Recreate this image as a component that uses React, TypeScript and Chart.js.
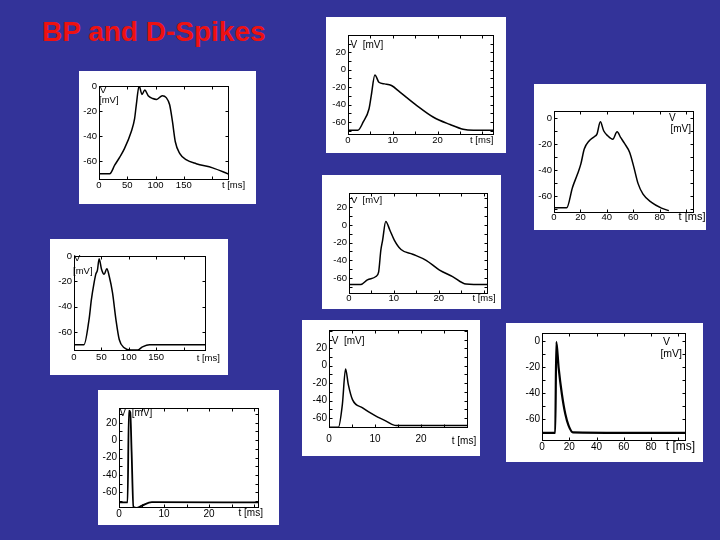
import React, { useEffect, useRef } from 'react';
import { Chart, registerables } from 'chart.js';

Chart.register(...registerables);

const FONT = "'Liberation Sans', Arial, Helvetica, sans-serif";

// ---- Panel 1 (top-left, long BP) ----
const p1Time = [0, 19, 28, 37, 45, 57, 63, 66, 71, 76, 81, 87, 95, 102, 112, 119, 125, 130, 135, 143, 154, 172, 201, 230];
const p1Volt = [-70, -70, -63, -56.5, -50, -36.5, -26, -15, 0, -6.7, -3.2, -7.7, -10, -10.7, -7.7, -9.3, -15, -28.5, -44.5, -54, -58.7, -62, -65.3, -70.4];
const p1XTicks = [0, 50, 100, 150];
const p1YTicks = [-60, -40, -20, 0];

// ---- Panel 2 (top-middle) ----
const p2Time = [0, 2.2, 3.4, 4.7, 5.2, 6.0, 6.9, 8.2, 9.7, 11.6, 15.3, 19, 22.8, 25.7, 28, 32.6];
const p2Volt = [-69.5, -69.5, -60, -44.8, -29.5, -5.9, -14.3, -16.2, -18.1, -25.7, -40.9, -54.3, -63, -68.4, -69.5, -69.5];
const p2XTicks = [0, 10, 20];
const p2YTicks = [-60, -40, -20, 0, 20];

// ---- Panel 3 (top-right) ----
const p3Time = [0, 9.6, 14, 17.8, 20.3, 22.9, 26.7, 30.5, 32.5, 35.1, 37.6, 40.7, 44.5, 47.8, 50.4, 53.4, 57.3, 60.5, 63.6, 67.4, 73.8, 81.4, 87];
const p3Volt = [-69, -69, -53.3, -43, -35.4, -23.8, -17.4, -14.3, -12.3, -2.8, -9.7, -13.6, -16.2, -10.5, -14.8, -19.5, -26.4, -37.9, -50.2, -58.5, -64.8, -69.2, -71.2];
const p3XTicks = [0, 20, 40, 60, 80];
const p3YTicks = [-60, -40, -20, 0];

// ---- Panel 4 (middle) ----
const p4Time = [0, 2.6, 4.1, 6.0, 6.6, 7.1, 7.5, 8.2, 9.1, 10.1, 11.6, 14.2, 17.2, 20.1, 23.1, 26.1, 31];
const p4Volt = [-67.4, -67.4, -62, -58.3, -53.3, -28.6, -17.1, 3.8, -5.7, -17.1, -27.8, -33.1, -40, -50.7, -58.3, -66.7, -67.4];
const p4XTicks = [0, 10, 20];
const p4YTicks = [-60, -40, -20, 0, 20];

// ---- Panel 5 (left middle) ----
const p5Time = [0, 18.3, 27.5, 31.8, 36.7, 39.7, 42.8, 45.9, 50.1, 55, 60, 64.2, 70.3, 76.5, 82.6, 91.7, 104, 116, 125, 138, 153, 241];
const p5Volt = [-70, -70, -50, -34.3, -21.1, -14.5, -11.1, -2.1, -10.3, -14.5, -10, -15.8, -29, -50, -65.9, -72.5, -74.3, -74.3, -71.7, -70, -70, -70];
const p5XTicks = [0, 50, 100, 150];
const p5YTicks = [-60, -40, -20, 0];

// ---- Panel 6 (bottom middle) ----
const p6Time = [0, 2.05, 2.9, 3.6, 4.2, 5.1, 7.3, 10.2, 12.4, 14.6, 30.2];
const p6Volt = [-70.5, -70.5, -44.6, -3.8, -21.7, -38.9, -48.4, -57.9, -63.6, -68.6, -68.6];
const p6XTicks = [0, 10, 20];
const p6YTicks = [-60, -40, -20, 0, 20];

// ---- Panel 7 (bottom right) ----
const p7Time = [0, 9.7, 10.5, 12.2, 14.6, 17.1, 19.5, 22.7, 105.6];
const p7Volt = [-70.8, -70.8, -0.5, -20.5, -40.9, -56.2, -65.1, -70.3, -70.8];
const p7XTicks = [0, 20, 40, 60, 80];
const p7YTicks = [-60, -40, -20, 0];

// ---- Panel 8 (bottom left) ----
const p8Time = [0, 1.9, 2.2, 2.5, 2.8, 3.2, 3.9, 5, 7.3, 31.1];
const p8Volt = [-71.6, -71.6, 34, 32, -13.4, -76.6, -77.8, -75.5, -71.2, -71.6];
const p8XTicks = [0, 10, 20];
const p8YTicks = [-60, -40, -20, 0, 20];

type Label = { text: string; ref: 'tl' | 'tr' | 'br'; dx: number; dy: number; align: CanvasTextAlign; size: number };

type PanelCfg = {
  left: number; top: number; width: number; height: number;
  padLeft: number; padTop: number; padRight: number; padBottom: number;
  time: number[]; volt: number[];
  xMin: number; xMax: number; yMin: number; yMax: number;
  xTicks: number[]; yTicks: number[];
  xMarkStep: number; yMarkStep: number;
  lineWidth: number; tickSize: number; xPad: number;
  labels: Label[];
};

const panels: PanelCfg[] = [
  {
    left: 79, top: 71, width: 177, height: 133, padLeft: 20, padTop: 15, padRight: 27, padBottom: 24,
    time: p1Time, volt: p1Volt, xMin: 0, xMax: 230, yMin: -75, yMax: 0, xTicks: p1XTicks, yTicks: p1YTicks,
    xMarkStep: 50, yMarkStep: 20, lineWidth: 1.5, tickSize: 9.5, xPad: 0,
    labels: [
      { text: 'V', ref: 'tl', dx: 1, dy: 6.5, align: 'left', size: 9.5 },
      { text: '[mV]', ref: 'tl', dx: 0, dy: 16.5, align: 'left', size: 9.5 },
      { text: 't [ms]', ref: 'br', dx: 4.5, dy: 7.5, align: 'center', size: 9.5 },
    ],
  },
  {
    left: 326, top: 17, width: 180, height: 136, padLeft: 22, padTop: 18, padRight: 12, padBottom: 18,
    time: p2Time, volt: p2Volt, xMin: 0, xMax: 32.6, yMin: -75, yMax: 40, xTicks: p2XTicks, yTicks: p2YTicks,
    xMarkStep: 5, yMarkStep: 10, lineWidth: 1.5, tickSize: 9.5, xPad: 0,
    labels: [
      { text: 'V  [mV]', ref: 'tl', dx: 2.4, dy: 12.5, align: 'left', size: 10 },
      { text: 't [ms]', ref: 'br', dx: -0.7, dy: 8, align: 'right', size: 9.5 },
    ],
  },
  {
    left: 534, top: 84, width: 172, height: 146, padLeft: 20, padTop: 27, padRight: 12, padBottom: 17,
    time: p3Time, volt: p3Volt, xMin: 0, xMax: 106, yMin: -73, yMax: 5.5, xTicks: p3XTicks, yTicks: p3YTicks,
    xMarkStep: 20, yMarkStep: 10, lineWidth: 1.5, tickSize: 9.5, xPad: -1,
    labels: [
      { text: 'V', ref: 'tr', dx: -25, dy: 10, align: 'left', size: 10 },
      { text: '[mV]', ref: 'tr', dx: -3, dy: 21, align: 'right', size: 10 },
      { text: 't [ms]', ref: 'br', dx: -2, dy: 6.5, align: 'center', size: 11 },
    ],
  },
  {
    left: 322, top: 175, width: 179, height: 134, padLeft: 27, padTop: 18, padRight: 13, padBottom: 15,
    time: p4Time, volt: p4Volt, xMin: 0, xMax: 31, yMin: -78, yMax: 36, xTicks: p4XTicks, yTicks: p4YTicks,
    xMarkStep: 5, yMarkStep: 10, lineWidth: 1.5, tickSize: 9.5, xPad: -1,
    labels: [
      { text: 'V  [mV]', ref: 'tl', dx: 2, dy: 10, align: 'left', size: 9.5 },
      { text: 't [ms]', ref: 'br', dx: -4, dy: 6.7, align: 'center', size: 9.5 },
    ],
  },
  {
    left: 50, top: 239, width: 178, height: 136, padLeft: 24, padTop: 17, padRight: 22, padBottom: 24,
    time: p5Time, volt: p5Volt, xMin: 0, xMax: 241, yMin: -75, yMax: 0, xTicks: p5XTicks, yTicks: p5YTicks,
    xMarkStep: 50, yMarkStep: 20, lineWidth: 1.5, tickSize: 9.5, xPad: 1,
    labels: [
      { text: 'V', ref: 'tl', dx: 0, dy: 5, align: 'left', size: 9.5 },
      { text: '[mV]', ref: 'tl', dx: -1, dy: 17.5, align: 'left', size: 9.5 },
      { text: 't [ms]', ref: 'br', dx: 2.3, dy: 10, align: 'center', size: 9.5 },
    ],
  },
  {
    left: 302, top: 320, width: 178, height: 136, padLeft: 27, padTop: 10, padRight: 12, padBottom: 28,
    time: p6Time, volt: p6Volt, xMin: 0, xMax: 30.2, yMin: -71.5, yMax: 41, xTicks: p6XTicks, yTicks: p6YTicks,
    xMarkStep: 5, yMarkStep: 10, lineWidth: 1.5, tickSize: 10, xPad: 5,
    labels: [
      { text: 'V  [mV]', ref: 'tl', dx: 2.7, dy: 14, align: 'left', size: 10 },
      { text: 't [ms]', ref: 'br', dx: -4, dy: 16, align: 'center', size: 10 },
    ],
  },
  {
    left: 506, top: 323, width: 197, height: 139, padLeft: 36, padTop: 10, padRight: 17, padBottom: 21,
    time: p7Time, volt: p7Volt, xMin: 0, xMax: 105.6, yMin: -77, yMax: 6.4, xTicks: p7XTicks, yTicks: p7YTicks,
    xMarkStep: 20, yMarkStep: 10, lineWidth: 2.2, tickSize: 10, xPad: 0,
    labels: [
      { text: 'V', ref: 'tr', dx: -23, dy: 11.7, align: 'left', size: 10.5 },
      { text: '[mV]', ref: 'tr', dx: -4, dy: 23.5, align: 'right', size: 10.5 },
      { text: 't [ms]', ref: 'br', dx: -5.5, dy: 9.4, align: 'center', size: 12 },
    ],
  },
  {
    left: 98, top: 390, width: 181, height: 135, padLeft: 21, padTop: 18, padRight: 20, padBottom: 17,
    time: p8Time, volt: p8Volt, xMin: 0, xMax: 31.1, yMin: -78, yMax: 37, xTicks: p8XTicks, yTicks: p8YTicks,
    xMarkStep: 5, yMarkStep: 10, lineWidth: 1.8, tickSize: 10, xPad: 0,
    labels: [
      { text: 'V  [mV]', ref: 'tl', dx: 0.6, dy: 8.4, align: 'left', size: 10 },
      { text: 't [ms]', ref: 'br', dx: -8.3, dy: 8.3, align: 'center', size: 10 },
    ],
  },
];

function Panel({ c }: { c: PanelCfg }) {
  const ref = useRef<HTMLCanvasElement>(null);

  useEffect(() => {
    const frame = {
      id: 'frame',
      afterDraw(chart: any) {
        const { ctx, chartArea: a } = chart;
        const xs = chart.scales.x;
        const ys = chart.scales.y;
        ctx.save();
        ctx.strokeStyle = '#000';
        ctx.lineWidth = 1;
        const L = Math.round(a.left) + 0.5;
        const R = Math.round(a.right) - 0.5;
        const T = Math.round(a.top) + 0.5;
        const B = Math.round(a.bottom) - 0.5;
        ctx.strokeRect(L, T, R - L, B - T);
        ctx.beginPath();
        const mk = 3;
        for (let v = Math.ceil(c.xMin / c.xMarkStep) * c.xMarkStep; v <= c.xMax + 1e-9; v += c.xMarkStep) {
          const px = Math.round(xs.getPixelForValue(v)) + 0.5;
          ctx.moveTo(px, B); ctx.lineTo(px, B - mk);
          ctx.moveTo(px, T); ctx.lineTo(px, T + mk);
        }
        for (let v = Math.ceil(c.yMin / c.yMarkStep) * c.yMarkStep; v <= c.yMax + 1e-9; v += c.yMarkStep) {
          const py = Math.round(ys.getPixelForValue(v)) + 0.5;
          ctx.moveTo(L, py); ctx.lineTo(L + mk, py);
          ctx.moveTo(R, py); ctx.lineTo(R - mk, py);
        }
        ctx.stroke();
        ctx.fillStyle = '#000';
        ctx.textBaseline = 'alphabetic';
        for (const lb of c.labels) {
          const bx = lb.ref === 'tl' ? a.left : a.right;
          const by = lb.ref === 'br' ? a.bottom : a.top;
          ctx.font = `${lb.size}px ${FONT}`;
          ctx.textAlign = lb.align;
          ctx.fillText(lb.text, bx + lb.dx, by + lb.dy);
        }
        ctx.restore();
      },
    };

    const chart = new Chart(ref.current!, {
      type: 'line',
      data: {
        datasets: [
          {
            data: c.time.map((t, i) => ({ x: t, y: c.volt[i] })),
            borderColor: '#000',
            borderWidth: c.lineWidth,
            pointRadius: 0,
            fill: false,
            cubicInterpolationMode: 'monotone',
          },
        ],
      },
      options: {
        animation: false,
        responsive: false,
        maintainAspectRatio: false,
        events: [],
        layout: { padding: { top: c.padTop, right: c.padRight, left: 0, bottom: 0 } },
        plugins: { legend: { display: false }, tooltip: { enabled: false } },
        scales: {
          x: {
            type: 'linear',
            min: c.xMin,
            max: c.xMax,
            grid: { display: false, drawTicks: false },
            border: { display: false },
            ticks: {
              autoSkip: false,
              maxRotation: 0,
              padding: c.xPad,
              color: '#000',
              font: { family: FONT, size: c.tickSize },
              callback: (v: any) => String(v),
            },
            afterBuildTicks: (s: any) => {
              s.ticks = c.xTicks.map((v) => ({ value: v }));
            },
            afterFit: (s: any) => {
              s.height = c.padBottom;
            },
          },
          y: {
            type: 'linear',
            min: c.yMin,
            max: c.yMax,
            grid: { display: false, drawTicks: false },
            border: { display: false },
            ticks: {
              autoSkip: false,
              padding: 2,
              color: '#000',
              font: { family: FONT, size: c.tickSize },
              callback: (v: any) => String(v),
            },
            afterBuildTicks: (s: any) => {
              s.ticks = c.yTicks.map((v) => ({ value: v }));
            },
            afterFit: (s: any) => {
              s.width = c.padLeft;
            },
          },
        },
      } as any,
      plugins: [frame],
    });
    return () => chart.destroy();
  }, [c]);

  return (
    <div
      style={{
        position: 'absolute',
        left: c.left,
        top: c.top,
        width: c.width,
        height: c.height,
        background: '#ffffff',
      }}
    >
      <canvas ref={ref} width={c.width} height={c.height} style={{ display: 'block' }} />
    </div>
  );
}

export default function App() {
  return (
    <div
      style={{
        position: 'fixed',
        left: 0,
        top: 0,
        width: 720,
        height: 540,
        background: '#333399',
        overflow: 'hidden',
        fontFamily: FONT,
      }}
    >
      <div
        style={{
          position: 'absolute',
          left: 42,
          top: 18,
          color: '#ee1111',
          fontWeight: 'bold',
          fontSize: 28,
          lineHeight: '28px',
          whiteSpace: 'nowrap',
        }}
      >
        BP and D-Spikes
      </div>
      {panels.map((c, i) => (
        <Panel key={i} c={c} />
      ))}
    </div>
  );
}
